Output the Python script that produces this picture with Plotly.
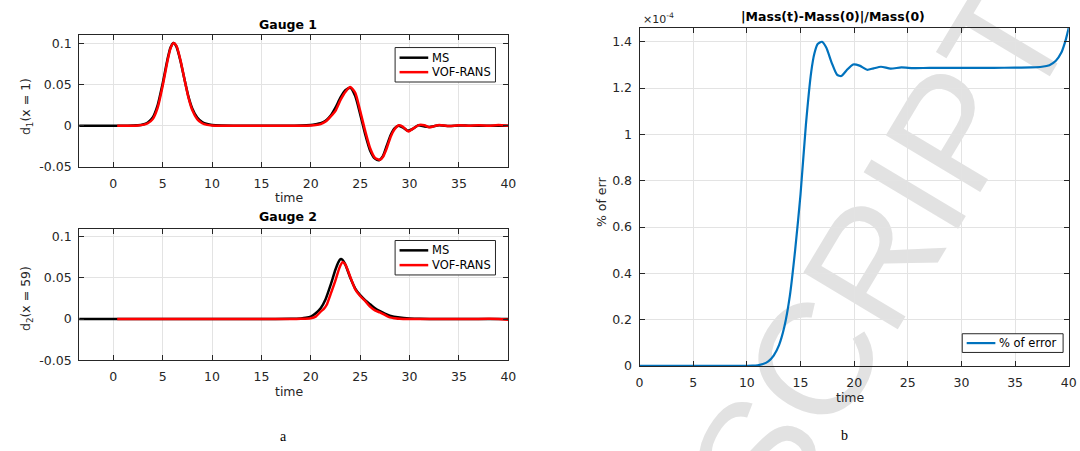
import plotly.graph_objects as go

# ---------------- data ----------------
# Gauge 1
g1_ms_t = [-3.45, 0, 1, 2, 2.5, 3, 3.5, 4, 4.5, 5, 5.5, 5.8, 6.1, 6.4, 6.8, 7.2, 7.6, 8, 8.5, 9, 9.5, 10, 11, 13, 15, 17,
           19, 20, 20.5, 21, 21.5, 22, 22.5, 23, 23.5, 24, 24.5, 25, 25.5, 26, 26.5, 26.9, 27.3, 27.7, 28.1, 28.5, 28.9,
           29.3, 29.8, 30.3, 30.9, 31.5, 32, 33, 34, 35, 36, 37, 38, 39, 40]
g1_ms_d = [0, 0, 0, 0.0002, 0.0005, 0.0015, 0.004, 0.010, 0.025, 0.051, 0.081, 0.095, 0.1005, 0.096, 0.079, 0.057, 0.036,
           0.021, 0.010, 0.0045, 0.002, 0.0008, 0.0002, 0, 0, 0,
           0.0003, 0.001, 0.0018, 0.003, 0.006, 0.012, 0.022, 0.034, 0.043, 0.046, 0.036, 0.014, -0.010, -0.030, -0.040,
           -0.042, -0.037, -0.024, -0.011, -0.003, 0.000,
           -0.002, -0.006, -0.004, 0.0005, -0.001, -0.0015, 0.0005, -0.0005, 0.0003, 0, 0, 0, 0, 0]

g1_vof_t = [0.4, 1, 2, 2.5, 3, 3.5, 4, 4.5, 5, 5.5, 5.8, 6.1, 6.4, 6.8, 7.2, 7.6, 8, 8.5, 9, 9.5, 10, 11, 13, 15, 17, 19,
            20, 20.5, 21, 21.5, 22, 22.5, 23, 23.5, 24, 24.5, 25, 25.5, 26, 26.5, 27, 27.3, 27.7, 28.1, 28.5, 28.9, 29.3,
            29.9, 30.3, 31, 31.5, 32, 32.5, 33, 34, 35, 36, 37, 38, 39, 40]
g1_vof_d = [0, 0, 0, 0.0003, 0.001, 0.003, 0.008, 0.022, 0.048, 0.079, 0.094, 0.1005, 0.097, 0.080, 0.057, 0.035, 0.019,
            0.008, 0.003, 0.001, 0.0003, 0, 0, 0, 0, 0,
            0.0003, 0.0008, 0.002, 0.005, 0.011, 0.018, 0.031, 0.041, 0.047, 0.040, 0.018, -0.006, -0.027, -0.039,
            -0.0415, -0.038, -0.027, -0.013, -0.004, 0.0005, -0.001,
            -0.007, -0.004, 0.001, 0.0005, -0.002, -0.0005, 0.001, -0.0005, 0.0005, 0, 0.0005, 0, 0.0008, 0]

# Gauge 2
g2_ms_t = [-3.45, 0, 5, 10, 15, 18, 19, 19.5, 20, 20.5, 21, 21.5, 22, 22.5, 22.8, 23, 23.2, 23.5, 24, 24.5, 25, 25.5,
           26, 26.5, 27, 27.5, 28, 29, 30, 31, 33, 35, 40]
g2_ms_d = [0, 0, 0, 0, 0, 0.0003, 0.0008, 0.0015, 0.003, 0.007, 0.013, 0.024, 0.041, 0.060, 0.069, 0.0725, 0.072, 0.066,
           0.050, 0.037, 0.029, 0.023, 0.018, 0.013, 0.0095, 0.0065, 0.004, 0.0018, 0.0008, 0.0003, 0, 0, 0]

g2_vof_t = [0.4, 5, 10, 15, 18, 19, 20, 20.5, 21, 21.3, 21.6, 22, 22.5, 22.9, 23.2, 23.5, 24, 24.5, 25, 25.5, 26, 26.5,
            27, 27.5, 28, 28.5, 29, 30, 33, 36, 38, 39, 40]
g2_vof_d = [0, 0, 0, 0, 0, 0.0003, 0.001, 0.003, 0.009, 0.012, 0.017, 0.030, 0.047, 0.062, 0.069, 0.066, 0.051, 0.036,
            0.028, 0.022, 0.015, 0.0105, 0.008, 0.005, 0.002, 0.001, 0.0003, 0, 0, 0, 0.0003, 0.0002, -0.0008]

# Mass error (units of 1e-4)
err_t = [0, 5, 9, 10, 10.5, 11, 11.5, 12, 12.5, 13, 13.5, 14, 14.5, 15, 15.5, 16, 16.3, 16.6, 17.0, 17.4, 17.9, 18.4,
         18.8, 19.3, 19.9, 20.5, 21.2, 21.8, 22.5, 23.4, 24.4, 25.5, 27, 30, 33, 35, 36.5, 37.5, 38.2, 38.8, 39.3, 39.7, 40]
err_v = [0, 0, 0, 0.0005, 0.001, 0.003, 0.008, 0.02, 0.045, 0.09, 0.17, 0.30, 0.50, 0.74, 1.04, 1.27, 1.35, 1.39, 1.40,
         1.375, 1.31, 1.258, 1.252, 1.277, 1.302, 1.297, 1.279, 1.285, 1.292, 1.284, 1.289, 1.286, 1.287, 1.287, 1.2875,
         1.288, 1.289, 1.292, 1.299, 1.318, 1.352, 1.405, 1.46]

x_ticks = [0, 5, 10, 15, 20, 25, 30, 35, 40]
x_ticktext = ["0", "5", "10", "15", "20", "25", "30", "35", "40"]
d_ticks = [-0.05, 0, 0.05, 0.1]
d_ticktext = ["-0.05", "0", "0.05", "0.1"]
e_ticks = [0, 0.2, 0.4, 0.6, 0.8, 1.0, 1.2, 1.4]
e_ticktext = ["0", "0.2", "0.4", "0.6", "0.8", "1", "1.2", "1.4"]

series_names = ["MS", "VOF-RANS"]
err_name = "% of error"

# ---------------- figure ----------------
W, H = 1080, 451
FONT = "DejaVu Sans"
AX = "#262626"
GRID = "#e3e3e3"
BLACK, RED, BLUE = "black", "#ff0000", "#0072BD"


def px(x):
    return x / W


def py(y):
    return 1 - y / H


def spl(color, width):
    return dict(color=color, width=width, shape="spline", smoothing=0.6)


fig = go.Figure()
fig.add_trace(go.Scatter(x=g1_ms_t, y=g1_ms_d, name=series_names[0], mode="lines", line=spl(BLACK, 2.5), xaxis="x", yaxis="y"))
fig.add_trace(go.Scatter(x=g1_vof_t, y=g1_vof_d, name=series_names[1], mode="lines", line=spl(RED, 2.5), xaxis="x", yaxis="y"))
fig.add_trace(go.Scatter(x=g2_ms_t, y=g2_ms_d, name=series_names[0], mode="lines", line=spl(BLACK, 2.5), xaxis="x2", yaxis="y2"))
fig.add_trace(go.Scatter(x=g2_vof_t, y=g2_vof_d, name=series_names[1], mode="lines", line=spl(RED, 2.5), xaxis="x2", yaxis="y2"))
fig.add_trace(go.Scatter(x=err_t, y=err_v, name=err_name, mode="lines", line=spl(BLUE, 2.2), xaxis="x3", yaxis="y3"))

axis_common = dict(showline=True, linecolor=AX, linewidth=1, mirror="ticks", ticks="inside", ticklen=5,
                   tickcolor=AX, tickwidth=1, showgrid=True, gridcolor=GRID, gridwidth=1, zeroline=False,
                   tickfont=dict(family=FONT, size=12.5, color=AX))
xa = dict(ticklabelstandoff=5, **axis_common)
ya = dict(ticklabelstandoff=4, **axis_common)

left_dom = [px(76), px(510)]
fig.update_layout(
    width=W, height=H, autosize=False,
    margin=dict(l=0, r=0, t=0, b=0),
    paper_bgcolor="white", plot_bgcolor="white",
    showlegend=False,
    xaxis=dict(domain=left_dom, anchor="y", range=[-3.45, 40], tickvals=x_ticks, ticktext=x_ticktext, **xa),
    yaxis=dict(domain=[py(169.5), py(35.3)], anchor="x", range=[-0.05, 0.1105], tickvals=d_ticks, ticktext=d_ticktext, **ya),
    xaxis2=dict(domain=left_dom, anchor="y2", range=[-3.45, 40], tickvals=x_ticks, ticktext=x_ticktext, **xa),
    yaxis2=dict(domain=[py(366), py(232.3)], anchor="x2", range=[-0.05, 0.1095], tickvals=d_ticks, ticktext=d_ticktext, **ya),
    xaxis3=dict(domain=[px(642.7), px(1076.7)], anchor="y3", range=[0, 40], tickvals=x_ticks, ticktext=x_ticktext, **xa),
    yaxis3=dict(domain=[py(371.7), py(28.3)], anchor="x3", range=[0, 1.46], tickvals=e_ticks, ticktext=e_ticktext, **ya),
)

ann = []
shapes = []


def add_text(text, x, y, size=12.5, color=AX, family=FONT, angle=0, xanchor="center"):
    ann.append(dict(text=text, x=px(x), y=py(y), xref="paper", yref="paper", showarrow=False,
                    xanchor=xanchor, yanchor="middle", textangle=angle,
                    font=dict(family=family, size=size, color=color)))


def add_legend(box, items):
    x0, y0, x1, y1 = box
    shapes.append(dict(type="rect", xref="paper", yref="paper", x0=px(x0), x1=px(x1), y0=py(y1), y1=py(y0),
                       line=dict(color=AX, width=1), fillcolor="white", layer="above"))
    for name, color, width, yy in items:
        shapes.append(dict(type="line", xref="paper", yref="paper", x0=px(x0 + 4.5), x1=px(x0 + 33.5),
                           y0=py(yy), y1=py(yy), line=dict(color=color, width=width), layer="above"))
        add_text(name, x0 + 35.5, yy, size=11.5, color="black", xanchor="left")


add_text("<b>Gauge 1</b>", 287, 25, size=12.5, color="black")
add_text("<b>Gauge 2</b>", 287, 220, size=12.5, color="black")
add_text("<b>|Mass(t)-Mass(0)|/Mass(0)</b>", 838, 17, size=12.5, color="black")
add_text("time", 289, 201)
add_text("time", 289, 398)
add_text("time", 856, 404)
add_text("d<sub>1</sub>(x = 1)", 23, 108, angle=-90)
add_text("d<sub>2</sub>(x = 59)", 23, 303, angle=-90)
add_text("% of err", 605, 205, angle=-90)
add_text("×10<sup>-4</sup>", 662, 19, size=11)
add_text("a", 283, 443, size=14, color="black", family="Liberation Serif")
add_text("b", 850, 442, size=14, color="black", family="Liberation Serif")

add_legend((395.5, 48.3, 497, 83.3), [(series_names[0], BLACK, 2.5, 58.6), (series_names[1], RED, 2.5, 73.3)])
add_legend((395.5, 244.3, 497, 279.3), [(series_names[0], BLACK, 2.5, 254.3), (series_names[1], RED, 2.5, 269.3)])
add_legend((969, 339, 1071, 358), [(err_name, BLUE, 2.2, 348.5)])

# watermark (below the data)
shapes.append(dict(type="rect", xref="paper", yref="paper", x0=px(866), x1=px(880), y0=py(254), y1=py(240),
                   line=dict(width=0), fillcolor="rgba(0,0,0,0)", layer="below",
                   label=dict(text="SCRIPT", textangle=-59, textposition="middle center",
                              font=dict(family="Liberation Sans", size=160, color="#e2e2e2"))))

fig.update_layout(annotations=ann, shapes=shapes)
fig.write_html("out.html")
